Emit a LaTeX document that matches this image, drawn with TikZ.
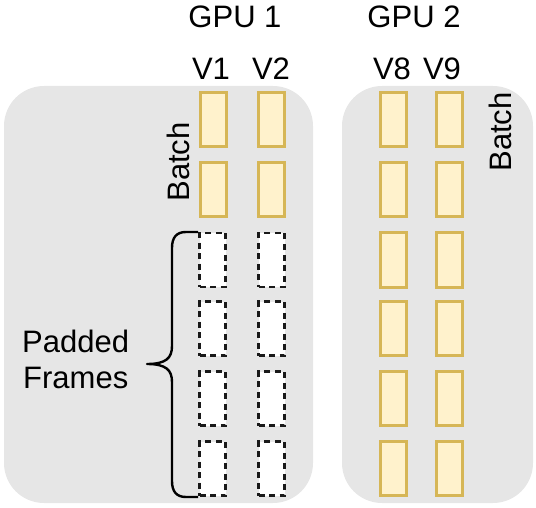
\documentclass[tikz,border=0pt]{standalone}
\usepackage{fontspec}
\setmainfont{Liberation Sans}
\begin{document}
\begin{tikzpicture}[x=1pt,y=-1pt,
  panel/.style={fill=panelgray,draw=none,rounded corners=40pt},
  fbox/.style={draw=boxborder,fill=boxfill,line width=3pt,minimum width=26pt,minimum height=54pt,inner sep=0pt},
  pbox/.style={draw=black!90,fill=white,dash pattern=on 6pt off 4.5pt,line width=2.8pt,minimum width=26pt,minimum height=54pt,inner sep=0pt},
  lbl/.style={font=\fontsize{31}{36}\selectfont,inner sep=0pt,anchor=base},
  batchlbl/.style={font=\fontsize{31}{36}\selectfont,inner sep=0pt,rotate=90}]
\definecolor{panelgray}{HTML}{E6E6E6}
\definecolor{boxborder}{HTML}{D6B656}
\definecolor{boxfill}{HTML}{FFF2CC}
\useasboundingbox (0,0) rectangle (536,508);
\fill[panel] (4,86) rectangle (313,503);
\fill[panel] (342,86) rectangle (533,503);
% headers
\node[lbl] (gpu1) at (235,28) {GPU 1};
\node[lbl] (gpu2) at (414,28) {GPU 2};
\node[lbl] (v1) at (211,80) {V1};
\node[lbl] (v2) at (271,80) {V2};
\node[lbl] (v8) at (392,80) {V8};
\node[lbl] (v9) at (442,80) {V9};
% GPU1 boxes
\node[fbox] (a1) at (213,120) {};
\node[fbox] (b1) at (271,120) {};
\node[fbox] (a2) at (213,189.5) {};
\node[fbox] (b2) at (271,189.5) {};
\node[pbox] (a3) at (212.5,260) {};
\node[pbox] (b3) at (271.5,260) {};
\node[pbox] (a4) at (212.5,328.5) {};
\node[pbox] (b4) at (271.5,328.5) {};
\node[pbox] (a5) at (212.5,398.5) {};
\node[pbox] (b5) at (271.5,398.5) {};
\node[pbox] (a6) at (212.5,468.5) {};
\node[pbox] (b6) at (271.5,468.5) {};
% GPU2 boxes
\foreach \i/\y in {1/120,2/189.5,3/260,4/328.5,5/398.5,6/468.5}{
  \node[fbox] (c\i) at (393.5,\y) {};
  \node[fbox] (d\i) at (449,\y) {};
}
% Batch labels
\node[batchlbl] (batchL) at (178,162) {Batch};
\node[batchlbl] (batchR) at (500,132) {Batch};
% Padded frames
\node[lbl,anchor=base west] (pad1) at (22,352) {Padded};
\node[lbl,anchor=base west] (pad2) at (23,388) {Frames};
% brace
\coordinate (btop) at (198,232);
\coordinate (bbot) at (198,497);
\coordinate (btip) at (147,364);
\draw[line width=2.4pt,line join=round]
  (btop) -- (186,232) .. controls (176,232) and (172,238) .. (172,248)
  -- (172,346) .. controls (172,358) and (166,364) .. (btip)
  .. controls (166,364) and (172,370) .. (172,382)
  -- (172,481) .. controls (172,491) and (176,497) .. (186,497) -- (bbot);
\end{tikzpicture}
\end{document}
